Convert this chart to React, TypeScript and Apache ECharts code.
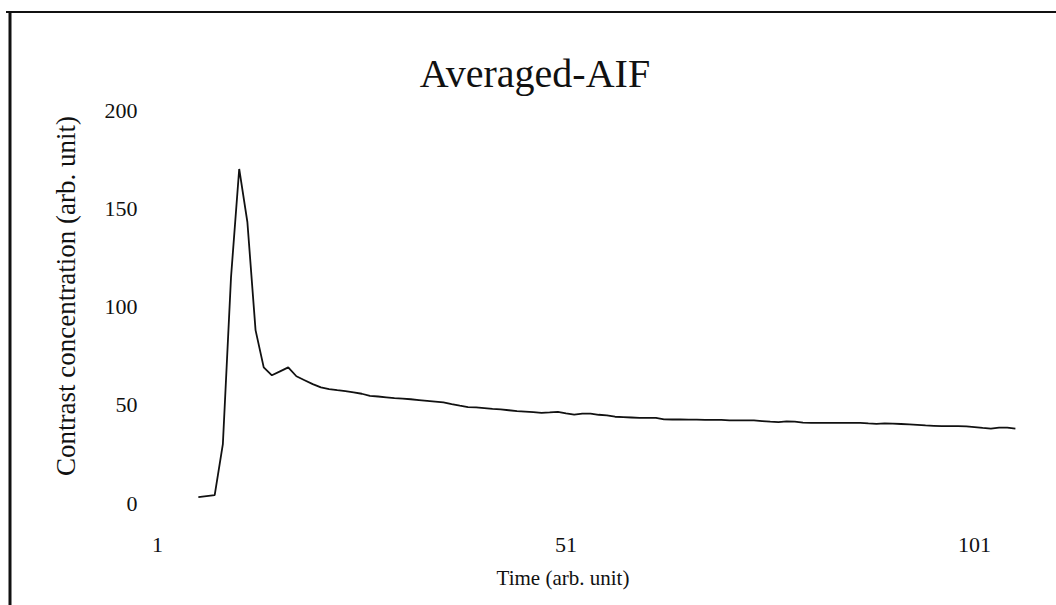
import React, { useEffect, useRef } from "react";
import * as echarts from "echarts";

const timeCategories: string[] = Array.from({ length: 106 }, (_, i) => String(i + 1));

const concentration: (number | null)[] = [
  null, null, null, null, null, 3, 3.5, 4, 30, 115,
  170, 143, 88, 69, 65, 67, 69, 64.5, 62.5, 60.5,
  58.8, 58, 57.4, 56.9, 56.3, 55.6, 54.5, 54.2, 53.8, 53.4,
  53.1, 52.8, 52.4, 52, 51.6, 51.2, 50.3, 49.5, 48.8, 48.7,
  48.3, 47.9, 47.6, 47.2, 46.8, 46.5, 46.2, 45.9, 46.1, 46.4,
  45.6, 45, 45.5, 45.5, 44.9, 44.6, 43.9, 43.7, 43.5, 43.3,
  43.3, 43.3, 42.6, 42.5, 42.5, 42.4, 42.4, 42.3, 42.3, 42.3,
  42, 42, 42, 42, 41.7, 41.4, 41.2, 41.5, 41.4, 40.9,
  40.8, 40.8, 40.8, 40.8, 40.8, 40.8, 40.8, 40.5, 40.3, 40.5,
  40.4, 40.2, 40, 39.8, 39.5, 39.3, 39.1, 39.1, 39.1, 39,
  38.6, 38.2, 37.9, 38.4, 38.4, 37.9,
];

const yTicks = { min: 0, max: 200, interval: 50 };

const titleText = "Averaged-AIF";
const xAxisTitle = "Time (arb. unit)";
const yAxisTitle = "Contrast concentration (arb. unit)";

const serif = "'Liberation Serif', 'Times New Roman', serif";

export default function App() {
  const ref = useRef<HTMLDivElement>(null);
  useEffect(() => {
    if (!ref.current) return;
    const chart = echarts.init(ref.current, null, { renderer: "svg" });
    chart.setOption({
      animation: false,
      backgroundColor: "#ffffff",
      title: {
        text: titleText,
        left: 530,
        top: 48,
        textAlign: "center",
        textStyle: { fontFamily: serif, fontSize: 40, fontWeight: "normal", color: "#111" },
      },
      grid: { left: 157.5, right: 40.6, top: 110, bottom: 102 },
      xAxis: {
        type: "category",
        data: timeCategories,
        boundaryGap: false,
        axisLine: { show: false },
        axisTick: { show: false },
        splitLine: { show: false },
        axisLabel: {
          interval: 49,
          margin: 30,
          fontFamily: serif,
          fontSize: 22,
          color: "#111",
        },
      },
      yAxis: {
        type: "value",
        min: yTicks.min,
        max: yTicks.max,
        interval: yTicks.interval,
        axisLine: { show: false },
        axisTick: { show: false },
        splitLine: { show: false },
        axisLabel: {
          margin: 20,
          fontFamily: serif,
          fontSize: 22,
          color: "#111",
        },
      },
      graphic: [
        { type: "line", shape: { x1: 6, y1: 12, x2: 1056, y2: 12 }, style: { stroke: "#111", lineWidth: 2 } },
        { type: "line", shape: { x1: 10, y1: 11, x2: 10, y2: 605 }, style: { stroke: "#111", lineWidth: 3 } },
        {
          type: "text",
          x: 563,
          y: 578,
          style: {
            text: xAxisTitle,
            fontFamily: serif,
            fontSize: 21,
            fill: "#111",
            align: "center",
            verticalAlign: "middle",
          },
        },
        {
          type: "text",
          x: 66,
          y: 296,
          rotation: Math.PI / 2,
          style: {
            text: yAxisTitle,
            fontFamily: serif,
            fontSize: 27,
            fill: "#111",
            align: "center",
            verticalAlign: "middle",
          },
        },
      ],
      series: [
        {
          type: "line",
          data: concentration,
          showSymbol: false,
          symbol: "none",
          connectNulls: false,
          lineStyle: { color: "#111", width: 1.8 },
        },
      ],
    });
    return () => chart.dispose();
  }, []);
  return (
    <div
      ref={ref}
      style={{ position: "fixed", left: 0, top: 0, width: 1056, height: 605, background: "#fff" }}
    />
  );
}
